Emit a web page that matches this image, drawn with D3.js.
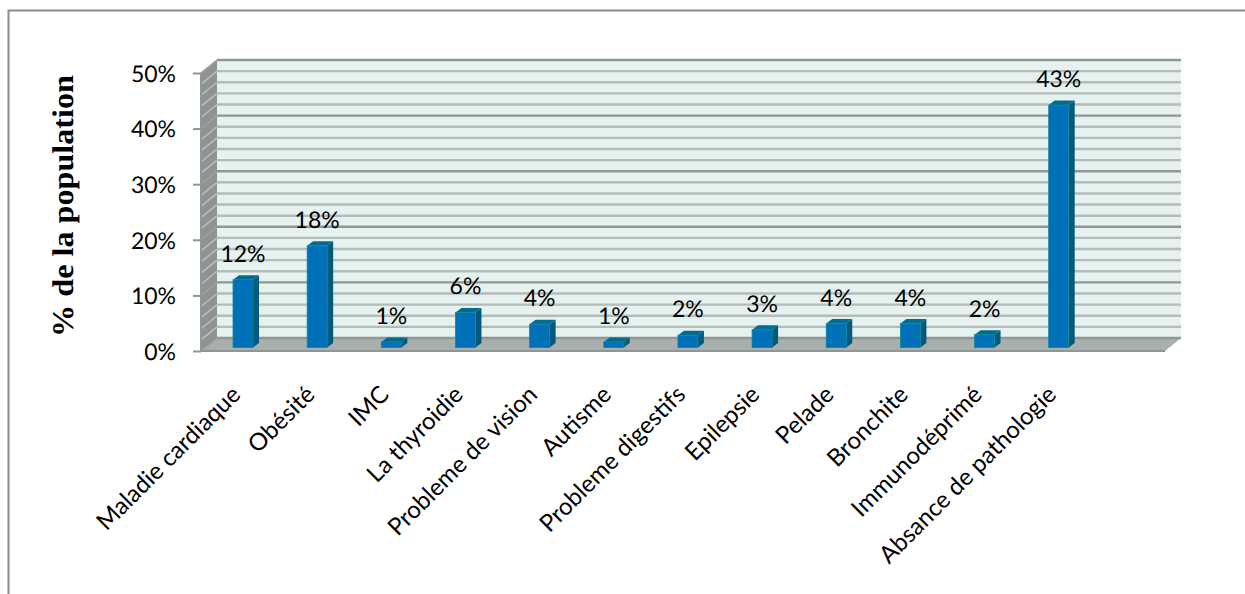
<!DOCTYPE html>
<html><head><meta charset="utf-8">
<style>html,body{margin:0;padding:0;background:#fff}svg{display:block;text-rendering:geometricPrecision}</style>
<script src="https://cdnjs.cloudflare.com/ajax/libs/d3/7.8.5/d3.min.js"></script>
</head><body><svg id="c" width="1245" height="594"></svg>
<script>
const categories = ["Maladie cardiaque","Obésité","IMC","La thyroidie","Probleme de vision","Autisme","Probleme digestifs","Epilepsie","Pelade","Bronchite","Immunodéprimé","Absance de pathologie"];
const values = [12.2,18.3,1.0,6.3,4.2,1.0,2.2,3.2,4.3,4.3,2.3,43.6];
const valueLabels = ["12%","18%","1%","6%","4%","1%","2%","3%","4%","4%","2%","43%"];
const yTicks = [0,10,20,30,40,50];
const minorTicks = [2,4,6,8,12,14,16,18,22,24,26,28,32,34,36,38,42,44,46,48];
const yTitle = "% de la population";

const svg = d3.select("#c");
const font = "Lato, sans-serif";
const X0=201, X1=1165, Y0=351, Y1=73, DX=16, DY=13;
const x = d3.scaleBand().domain(categories.concat("")).range([X0,X1]);
const y = d3.scaleLinear().domain([0,50]).range([Y0,Y1]);

// frame
svg.append("path").attr("d",`M8.5,594V10.5H1245`).attr("fill","none").attr("stroke","#8c8c8c").attr("stroke-width",2);

// walls
svg.append("rect").attr("x",X0+DX).attr("y",Y1-DY).attr("width",X1-X0).attr("height",Y0-Y1).attr("fill","#e6f2ef");
svg.append("path").attr("d",`M${X0},${Y1}L${X0+DX},${Y1-DY}V${Y0-DY}L${X0},${Y0}Z`).attr("fill","#8f9492");
svg.append("path").attr("d",`M${X0},${Y0}L${X0+DX},${Y0-DY}H${X1+DX}L${X1},${Y0}Z`).attr("fill","#a9afad");

// grid
minorTicks.forEach(t=>{
  const p=y(t);
  svg.append("path").attr("d",`M${X0},${p}L${X0+DX},${p-DY}`).attr("fill","none").attr("stroke","#b9bfbc").attr("stroke-width",1.5);
  svg.append("path").attr("d",`M${X0+DX},${p-DY}H${X1+DX}`).attr("fill","none").attr("stroke","#b4bbb8").attr("stroke-width",2.4);
});
yTicks.forEach(t=>{
  const p=y(t);
  svg.append("path").attr("d",`M${X0},${p}L${X0+DX},${p-DY}`).attr("fill","none").attr("stroke","#9aa09e").attr("stroke-width",1.5);
  svg.append("path").attr("d",`M${X0+DX},${p-DY}H${X1+DX}`).attr("fill","none").attr("stroke","#8f9694").attr("stroke-width",2.4);
});
svg.append("path").attr("d",`M${X0},${Y1}V${Y0}H${X1}`).attr("fill","none").attr("stroke","#8f9694").attr("stroke-width",2);

// axes
const ay = svg.append("g").attr("transform",`translate(${X0},0)`).call(d3.axisLeft(y).tickValues(yTicks).tickSize(8).tickFormat(d=>d+"%"));
ay.select(".domain").remove();
ay.selectAll("line").attr("stroke","#8f9694").attr("stroke-width",2);
ay.selectAll("text").attr("font-family",font).attr("font-size",23).attr("fill","#000").attr("x",-25).attr("dy","0.36em");

// bars
const barW=20, bdx=6, bdy=4.5, lift=3.5;
categories.forEach((c,i)=>{
  const l=x(c)+32, r=l+barW, b=Y0-lift, t=b-(y(0)-y(values[i]));
  svg.append("path").attr("d",`M${r},${t}L${r+bdx},${t-bdy}V${b-bdy}L${r},${b}Z`).attr("fill","#005a7d");
  svg.append("path").attr("d",`M${l},${t}L${l+bdx},${t-bdy}H${r+bdx}L${r},${t}Z`).attr("fill","#006d90");
  svg.append("rect").attr("x",l).attr("y",t).attr("width",barW).attr("height",b-t).attr("fill","#0070b8").attr("stroke","#0a8a9a").attr("stroke-width",0.8);
  svg.append("text").attr("x",l+10).attr("y",t-18).attr("text-anchor","middle").attr("font-family",font).attr("font-size",23).attr("fill","#000").text(valueLabels[i]);
  svg.append("text").attr("transform",`translate(${l+9},${396}) rotate(-45)`).attr("text-anchor","end").attr("font-family",font).attr("font-size",24).attr("fill","#000").text(c);
});

svg.append("text").attr("transform","translate(73,206) rotate(-90)").attr("text-anchor","middle").attr("font-family","'Liberation Serif', serif").attr("font-weight","bold").attr("font-size",30).attr("textLength",262).attr("lengthAdjust","spacingAndGlyphs").attr("fill","#000").text(yTitle);
</script></body></html>
